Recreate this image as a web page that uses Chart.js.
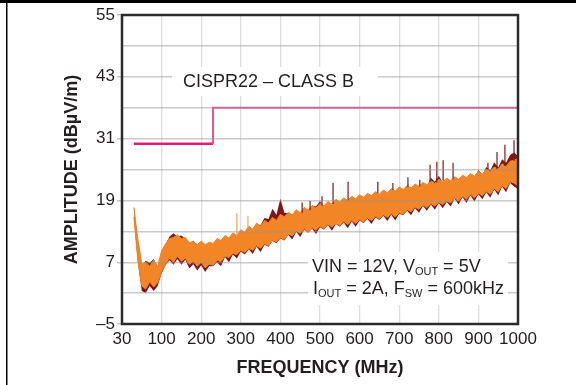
<!DOCTYPE html>
<html>
<head>
<meta charset="utf-8">
<script src="https://cdn.jsdelivr.net/npm/chart.js@4/dist/chart.umd.min.js"></script>
<style>
  body { margin: 0; background: #fff; }
  #wrap { width: 576px; height: 385px; }
</style>
</head>
<body>
<div id="wrap"><canvas id="emi" width="576" height="385"></canvas></div>
<script>
// frequency grid (MHz)
const freq = [30,40,50,60,70,80,90,100,110,120,130,140,150,160,170,180,190,200,210,220,
  230,240,250,260,270,280,290,300,310,320,330,340,350,360,370,380,390,400,410,420,
  430,440,450,460,470,480,490,500,510,520,530,540,550,560,570,580,590,600,610,620,
  630,640,650,660,670,680,690,700,710,720,730,740,750,760,770,780,790,800,810,820,
  830,840,850,860,870,880,890,900,910,920,930,940,950,960,970,980,990,1000];

// orange trace envelope (dBuV/m)
const orangeHi = [17.6,11.5,6.6,7.0,6.2,7.4,6.2,9.2,10.6,11.6,11.8,12.3,11.6,11.8,10.8,11.0,10.4,11.1,10.4,10.9,
  10.6,11.6,11.2,12.2,11.7,12.7,12.2,13.3,12.8,14.0,13.4,14.6,14.0,15.1,14.6,15.7,15.1,16.3,15.8,16.7,
  16.2,17.2,16.6,17.6,17.1,18.0,17.5,18.4,17.9,18.8,18.3,19.2,18.7,19.5,19.0,19.8,19.3,20.1,19.6,20.4,
  19.9,20.7,20.2,21.0,20.5,21.3,20.8,21.6,21.1,21.9,21.4,22.2,21.7,22.5,22.0,22.8,22.3,23.1,22.6,23.3,
  22.8,23.6,23.1,23.9,23.4,24.2,23.7,24.6,24.1,25.0,24.6,25.5,25.1,26.1,25.6,26.6,26.8,27.2];
const orangeLo = [15.8,7.5,2.4,1.8,3.2,2.2,3.0,5.2,6.6,7.8,7.0,8.2,7.2,7.8,6.6,7.2,6.2,7.0,5.9,6.6,
  6.4,7.4,7.1,8.2,7.9,8.7,8.5,9.3,8.9,9.7,9.3,10.2,9.7,10.6,10.2,11.3,10.9,11.8,11.4,12.5,
  12.1,13.1,12.6,13.5,12.9,13.7,13.2,14.0,13.5,14.4,13.8,14.6,14.1,14.9,14.3,15.1,14.5,15.3,14.8,15.6,
  15.1,15.9,15.4,16.2,15.7,16.4,15.8,16.6,16.3,17.2,16.8,17.7,17.3,18.1,17.6,18.4,17.9,18.7,18.2,18.9,
  18.5,19.5,18.9,19.8,19.2,20.2,19.5,20.4,19.9,20.8,20.2,21.3,20.7,21.9,21.3,22.6,22.4,21.8];

// dark red trace envelope (dBuV/m)
const darkHi = [17.9,11.2,6.3,7.3,6.9,7.6,6.0,9.0,10.4,12.0,12.6,12.0,12.2,11.5,10.6,11.2,10.2,10.9,10.2,10.7,
  10.4,11.4,11.0,12.0,11.5,12.5,12.0,13.1,12.6,13.8,13.2,14.4,14.2,15.6,15.4,17.4,16.2,19.3,16.6,16.5,
  16.0,17.0,16.4,17.4,16.9,18.0,17.8,18.9,17.7,18.6,18.1,19.0,18.5,19.3,18.8,19.6,19.1,19.9,19.4,20.2,
  19.7,20.5,20.0,20.8,20.3,21.1,20.6,21.4,20.9,21.7,21.2,22.0,21.5,22.3,21.8,23.4,22.6,23.8,22.4,23.1,
  22.6,23.4,22.9,23.7,23.2,24.0,23.5,24.9,24.0,25.5,24.8,26.4,25.4,27.0,26.3,27.8,28.3,27.6];
const darkLo = [15.6,7.0,1.4,1.0,2.4,1.4,2.4,4.8,6.4,7.4,6.5,7.6,6.5,7.5,5.8,6.6,5.4,6.4,5.1,6.2,
  6.2,7.0,6.2,8.0,7.0,8.5,7.7,9.1,8.5,9.5,8.6,10.0,9.0,10.4,10.0,11.1,10.7,11.6,11.2,12.3,
  11.4,12.9,11.9,13.3,12.7,13.5,12.5,13.8,13.3,14.2,13.1,14.4,13.9,14.7,13.6,14.9,13.9,15.1,14.6,15.4,
  14.4,15.7,15.2,16.0,15.0,16.2,15.1,16.4,16.1,17.0,16.1,17.5,16.6,17.9,17.0,18.2,17.2,18.5,17.5,18.7,
  17.8,19.3,18.2,19.6,18.5,20.0,18.8,20.2,19.2,20.6,19.5,21.1,20.0,21.7,20.6,22.4,21.7,21.2];

// narrow peaks above the trace
const spikeFreq = [455,475,505,533,571,646,684,722,752,778,795,811,836,924,947,967,990];
const spikeBase = [16.6,17.1,18.0,18.3,19.0,20.4,21.0,21.6,21.7,22.6,22.5,22.8,23.1,24.9,25.1,25.7,26.7];
const spikeTop  = [18.6,18.9,19.8,22.4,22.6,22.6,22.4,23.5,23.0,25.9,26.5,26.8,26.3,26.3,28.4,29.8,30.7];
const lightSpikeFreq = [290,318];
const lightSpikeBase = [12.2,13.8];
const lightSpikeTop  = [16.5,16.0];

// CISPR22 class B limit
const limitFreq  = [30,230,230,1000];
const limitLevel = [30,30,37,37];

const yTicks = [-5,7,19,31,43,55];

const FONT = '"Liberation Sans", Arial, Helvetica, sans-serif';
const ORANGE = 'rgb(242,133,38)';
const DARKRED = 'rgb(130,22,22)';

function pts(xs, ys) { return xs.map((x, i) => ({x: x, y: ys[i]})); }
function spikes(xs, lo, hi) {
  const out = [];
  xs.forEach((x, i) => { out.push({x: x, y: lo[i]}, {x: x, y: hi[i]}, {x: x, y: null}); });
  return out;
}

const frame = {
  id: 'frame',
  beforeDraw(chart) {
    const c = chart.ctx;
    c.save();
    c.fillStyle = '#fff';
    c.fillRect(0, 0, chart.width, chart.height);
    c.fillStyle = '#000';
    c.fillRect(0, 0, chart.width, 3);
    c.fillRect(6, 0, 1.5, chart.height);
    c.restore();
  },
  afterDraw(chart) {
    const c = chart.ctx, a = chart.chartArea;
    c.save();
    c.strokeStyle = '#2b2b2b';
    c.lineWidth = 2.5;
    c.strokeRect(a.left, a.top, a.right - a.left, a.bottom - a.top);

    // label boxes
    c.fillStyle = '#fff';
    c.fillRect(172, 67, 206, 29);
    c.fillRect(308, 252, 200, 53);

    c.fillStyle = '#231f20';
    c.textBaseline = 'middle';
    c.font = '18px ' + FONT;
    c.fillText('CISPR22 \u2013 CLASS B', 183, 82);

    function run(parts, x, y) {
      parts.forEach(p => {
        c.font = (p[1] ? '11px ' : '18px ') + FONT;
        c.fillText(p[0], x, y + (p[1] ? 5 : 0));
        x += c.measureText(p[0]).width;
      });
    }
    run([['VIN = 12V, V', 0], ['OUT', 1], [' = 5V', 0]], 312, 267);
    run([['I', 0], ['OUT', 1], [' = 2A, F', 0], ['SW', 1], [' = 600kHz', 0]], 313, 289);
    c.restore();
  }
};

new Chart(document.getElementById('emi'), {
  type: 'line',
  data: {
    datasets: [
      {
        data: pts(limitFreq, limitLevel),
        borderWidth: 2,
        borderColor: 'rgb(232,80,150)',
        segment: {
          borderColor: ctx => ctx.p0DataIndex === 0 ? 'rgb(228,28,118)' : 'rgb(232,80,150)',
          borderWidth: ctx => ctx.p0DataIndex === 0 ? 2.5 : 2
        },
        pointRadius: 0
      },
      {
        data: spikes(lightSpikeFreq, lightSpikeBase, lightSpikeTop),
        borderColor: 'rgba(246,170,100,0.85)',
        borderWidth: 1.5,
        pointRadius: 0
      },
      {
        data: spikes(spikeFreq, spikeBase, spikeTop),
        borderColor: 'rgba(130,22,22,0.8)',
        borderWidth: 1.5,
        pointRadius: 0
      },
      {
        data: pts(freq, orangeLo),
        borderColor: ORANGE,
        borderWidth: 1,
        pointRadius: 0
      },
      {
        data: pts(freq, orangeHi),
        borderColor: ORANGE,
        backgroundColor: ORANGE,
        borderWidth: 1,
        fill: '-1',
        pointRadius: 0
      },
      {
        data: pts(freq, darkLo),
        borderWidth: 0,
        pointRadius: 0
      },
      {
        data: pts(freq, darkHi),
        backgroundColor: DARKRED,
        borderWidth: 0,
        fill: '-1',
        pointRadius: 0
      }
    ]
  },
  options: {
    responsive: false,
    animation: false,
    events: [],
    layout: { padding: { top: 15, right: 58, bottom: 0, left: 0 } },
    plugins: { legend: { display: false }, tooltip: { enabled: false } },
    scales: {
      x: {
        type: 'linear',
        min: 0,
        max: 1000,
        afterFit: s => { s.height = 61; },
        border: { display: false },
        grid: { color: '#dedede', lineWidth: 1.3, drawTicks: false },
        ticks: {
          stepSize: 100,
          padding: 5,
          color: '#231f20',
          font: { family: FONT, size: 17 },
          maxRotation: 0,
          autoSkip: false,
          callback: v => v === 0 ? '30' : String(v)
        },
        title: {
          display: true,
          text: 'FREQUENCY (MHz)',
          color: '#231f20',
          font: { family: FONT, size: 18, weight: 'bold' },
          padding: { top: 0, bottom: 6 }
        }
      },
      y: {
        min: -5,
        max: 55,
        afterFit: s => { s.width = 122; },
        border: { display: false },
        grid: {
          z: 1,
          color: 'rgba(150,150,150,0.5)',
          lineWidth: 1.4,
          tickLength: 5,
          tickColor: ctx => yTicks.includes(ctx.tick.value) ? 'rgba(150,150,150,0.6)' : 'rgba(0,0,0,0)'
        },
        ticks: {
          stepSize: 6,
          padding: 2,
          color: '#231f20',
          font: { family: FONT, size: 17 },
          autoSkip: false,
          callback: v => yTicks.includes(v) ? (v < 0 ? '\u20135' : String(v)) : ''
        },
        title: {
          display: true,
          text: 'AMPLITUDE (dB\u00b5V/m)',
          color: '#231f20',
          font: { family: FONT, size: 18, weight: 'bold' },
          padding: { top: 61, bottom: 0 }
        }
      }
    }
  },
  plugins: [frame]
});
</script>
</body>
</html>
